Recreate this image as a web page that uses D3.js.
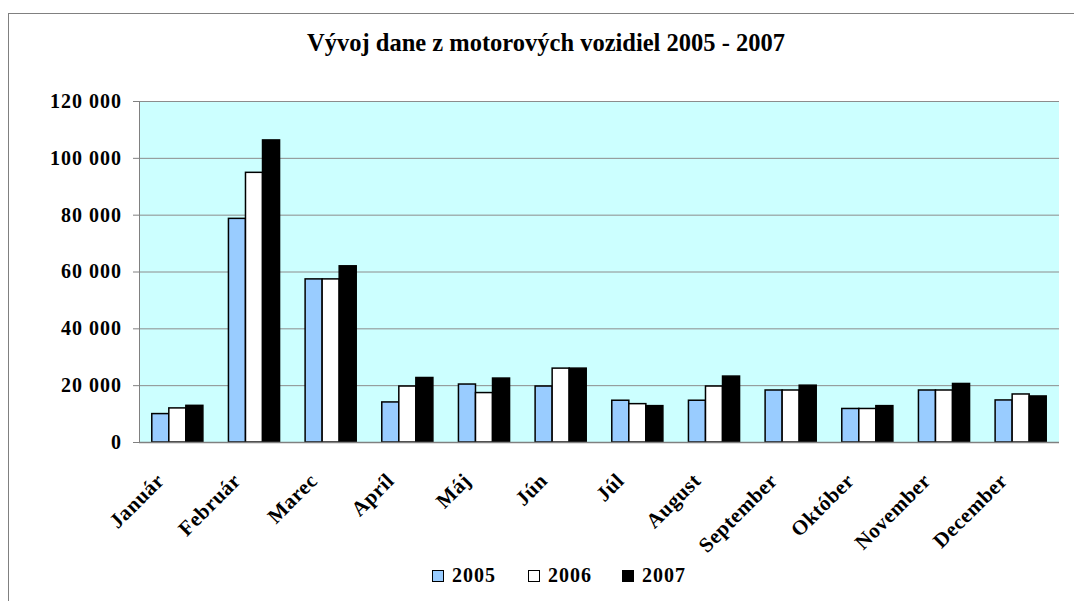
<!DOCTYPE html>
<html lang="sk">
<head>
  <meta charset="utf-8">
  <script src="https://d3js.org/d3.v7.min.js"></script>
  <style>
    body { margin: 0; background: #fff; }
    svg text { font-family: "Liberation Serif", "Times New Roman", serif !important; font-weight: bold; }
  </style>
</head>
<body>
<script>
  // data
  const months = ["Január", "Február", "Marec", "Apríl", "Máj", "Jún", "Júl",
                  "August", "September", "Október", "November", "December"];
  const years = ["2005", "2006", "2007"];
  const v2005 = [10000, 78700, 57400, 14100, 20400, 19700, 14700, 14700, 18300, 11800, 18300, 14800];
  const v2006 = [12000, 94900, 57400, 19700, 17400, 26000, 13500, 19700, 18300, 11800, 18300, 16900];
  const v2007 = [12900, 106300, 62000, 22700, 22500, 26000, 12800, 23200, 20000, 12800, 20600, 16200];
  const yTicks = [0, 20000, 40000, 60000, 80000, 100000, 120000];
  const colors = ["#99ccff", "#ffffff", "#000000"];

  const series = [v2005, v2006, v2007];
  const serif = "'Liberation Serif', 'Times New Roman', serif";

  const width = 1074, height = 601;
  const plot = { left: 139, top: 101, right: 1059, bottom: 442 };

  const svg = d3.select("body").append("svg")
    .attr("width", width)
    .attr("height", height)
    .attr("font-family", serif);

  // outer chart border (runs off the right and bottom edge)
  svg.append("rect")
    .attr("x", 8.5).attr("y", 13.5)
    .attr("width", 1200).attr("height", 800)
    .attr("fill", "#fff")
    .attr("stroke", "#808080")
    .attr("stroke-width", 1);

  svg.append("text")
    .attr("x", 546).attr("y", 51)
    .attr("text-anchor", "middle")
    .attr("font-size", 24.5)
    .text("Vývoj dane z motorových vozidiel 2005 - 2007");

  // scales
  const x0 = d3.scaleBand()
    .domain(months)
    .range([plot.left, plot.right])
    .paddingInner(1 / 3)
    .paddingOuter(1 / 6);

  const x1 = d3.scaleBand()
    .domain(years)
    .range([0, x0.bandwidth()]);

  const y = d3.scaleLinear()
    .domain([0, 120000])
    .range([plot.bottom, plot.top]);

  // plot background
  svg.append("rect")
    .attr("x", plot.left).attr("y", plot.top)
    .attr("width", plot.right - plot.left)
    .attr("height", plot.bottom - plot.top)
    .attr("fill", "#ccffff");

  // gridlines
  svg.append("g")
    .selectAll("line")
    .data(yTicks.filter(d => d > 0))
    .enter().append("line")
    .attr("x1", plot.left).attr("x2", plot.right)
    .attr("y1", d => y(d) + 0.5).attr("y2", d => y(d) + 0.5)
    .attr("stroke", "#8c8c8c")
    .attr("stroke-width", 1);

  // bars
  const groups = svg.append("g")
    .selectAll("g")
    .data(months)
    .enter().append("g")
    .attr("transform", d => "translate(" + x0(d) + ",0)");

  groups.selectAll("rect")
    .data((m, i) => years.map((yr, j) => ({ yr: yr, value: series[j][i], color: colors[j] })))
    .enter().append("rect")
    .attr("x", d => x1(d.yr))
    .attr("y", d => y(d.value))
    .attr("width", x1.bandwidth())
    .attr("height", d => y(0) - y(d.value))
    .attr("fill", d => d.color)
    .attr("stroke", "#000")
    .attr("stroke-width", 1.5);

  // y axis
  const fmt = d3.formatLocale({ decimal: ",", thousands: " ", grouping: [3], currency: ["", " €"] }).format(",");
  const yAxis = svg.append("g")
    .attr("transform", "translate(" + plot.left + ",0)")
    .call(d3.axisLeft(y).tickValues(yTicks).tickSize(6).tickPadding(11).tickFormat(fmt))
    .attr("font-family", serif)
    .attr("font-size", 20);
  yAxis.select(".domain").attr("stroke", "#808080");
  yAxis.selectAll(".tick line").attr("stroke", "#808080");
  yAxis.selectAll(".tick text")
    .attr("letter-spacing", 1)
    .attr("fill", "#000");

  // x axis line
  svg.append("line")
    .attr("x1", plot.left).attr("x2", plot.right)
    .attr("y1", plot.bottom + 0.5).attr("y2", plot.bottom + 0.5)
    .attr("stroke", "#808080")
    .attr("stroke-width", 1.5);

  // month labels, rotated
  svg.append("g")
    .selectAll("text")
    .data(months)
    .enter().append("text")
    .attr("transform", d => "translate(" + (x0(d) + x0.bandwidth() / 2 - 12) + ",482) rotate(-45)")
    .attr("text-anchor", "end")
    .attr("font-size", 21)
    .attr("letter-spacing", 0.5)
    .text(d => d);

  // legend
  const legendX = [432, 528, 622];
  const legend = svg.append("g")
    .selectAll("g")
    .data(years)
    .enter().append("g")
    .attr("transform", (d, i) => "translate(" + legendX[i] + ",570)");
  legend.append("rect")
    .attr("x", 0.5).attr("y", 0.5)
    .attr("width", 11).attr("height", 11)
    .attr("fill", (d, i) => colors[i])
    .attr("stroke", "#000")
    .attr("stroke-width", 1);
  legend.append("text")
    .attr("x", 20).attr("y", 12)
    .attr("font-size", 20)
    .attr("letter-spacing", 1)
    .text(d => d);
</script>
</body>
</html>
